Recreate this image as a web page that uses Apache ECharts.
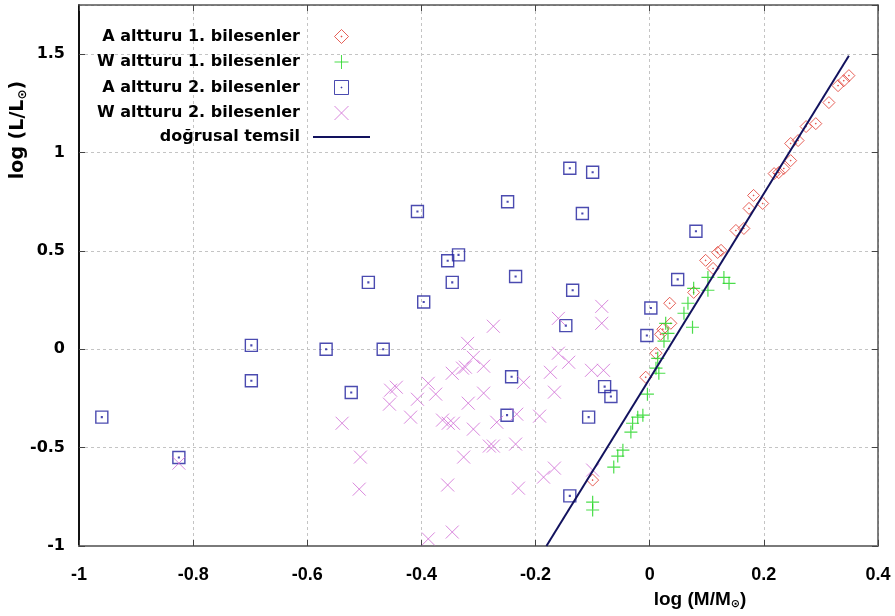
<!DOCTYPE html>
<html lang="tr">
<head>
<meta charset="UTF-8" />
<script src="https://cdn.jsdelivr.net/npm/echarts@6/dist/echarts.min.js"></script>
<title>log L - log M</title>
<style>html, body { margin: 0; padding: 0; background: #fff; }</style>
</head>
<body>
<div id="main" style="width: 895px; height: 616px"></div>
<script type="text/javascript">
// series names (legend order)
const seriesNames = ['A altturu 1. bilesenler', 'W altturu 1. bilesenler', 'A altturu 2. bilesenler', 'W altturu 2. bilesenler', 'doğrusal temsil'];

// axis ranges
const xRange = [-1, 0.4];
const yRange = [-1, 1.75];

// A altturu 1. bilesenler  [log M, log L]
const altA1 = [
	[0.349, 1.391], [0.340, 1.365], [0.330, 1.340], [0.314, 1.254], [0.291, 1.147],
	[0.274, 1.132], [0.260, 1.061], [0.247, 1.046], [0.247, 0.959], [0.235, 0.919],
	[0.226, 0.898], [0.218, 0.893], [0.198, 0.741], [0.182, 0.782], [0.174, 0.716],
	[0.165, 0.614], [0.151, 0.604], [0.125, 0.503], [0.119, 0.492], [0.098, 0.452],
	[0.111, 0.411], [0.077, 0.289], [0.035, 0.234], [0.037, 0.132], [0.023, 0.102],
	[0.019, 0.076], [0.011, -0.020], [-0.007, -0.142], [-0.100, -0.665]
];

// W altturu 1. bilesenler
const altW1 = [
	[0.130, 0.365], [0.139, 0.335], [0.102, 0.365], [0.102, 0.300], [0.077, 0.310],
	[0.067, 0.234], [0.060, 0.183], [0.075, 0.112], [0.028, 0.132], [0.032, 0.081],
	[0.025, 0.041], [0.014, -0.046], [0.011, -0.096], [0.016, -0.122], [-0.004, -0.228],
	[-0.012, -0.335], [-0.021, -0.345], [-0.030, -0.376], [-0.033, -0.421], [-0.047, -0.513],
	[-0.056, -0.543], [-0.063, -0.599], [-0.100, -0.777], [-0.100, -0.817]
];

// A altturu 2. bilesenler
const altA2 = [
	[-0.960, -0.345], [-0.825, -0.550], [-0.698, 0.020], [-0.698, -0.160], [-0.567, 0.000],
	[-0.523, -0.220], [-0.493, 0.340], [-0.467, 0.000], [-0.407, 0.700], [-0.396, 0.240],
	[-0.354, 0.450], [-0.346, 0.340], [-0.335, 0.480], [-0.249, 0.750], [-0.235, 0.370],
	[-0.250, -0.335], [-0.242, -0.140], [-0.140, 0.920], [-0.100, 0.900], [-0.118, 0.690],
	[-0.135, 0.300], [-0.147, 0.120], [-0.140, -0.745], [-0.107, -0.345], [-0.079, -0.190],
	[-0.068, -0.240], [-0.005, 0.070], [0.002, 0.210], [0.049, 0.355], [0.081, 0.600]
];

// W altturu 2. bilesenler
const altW2 = [
	[-0.825, -0.579], [-0.539, -0.376], [-0.507, -0.548], [-0.509, -0.711], [-0.454, -0.208],
	[-0.444, -0.193], [-0.456, -0.279], [-0.419, -0.345], [-0.407, -0.254], [-0.388, -0.173],
	[-0.375, -0.228], [-0.363, -0.360], [-0.353, -0.376], [-0.344, -0.376], [-0.346, -0.122],
	[-0.328, -0.096], [-0.323, -0.091], [-0.319, 0.030], [-0.309, -0.041], [-0.291, -0.086],
	[-0.274, 0.117], [-0.318, -0.274], [-0.291, -0.223], [-0.309, -0.406], [-0.268, -0.371],
	[-0.281, -0.492], [-0.274, -0.492], [-0.235, -0.482], [-0.326, -0.548], [-0.354, -0.690],
	[-0.346, -0.929], [-0.388, -0.964], [-0.230, -0.706], [-0.221, -0.168], [-0.233, -0.330],
	[-0.193, -0.340], [-0.174, -0.117], [-0.167, -0.218], [-0.160, -0.020], [-0.142, -0.066],
	[-0.160, 0.157], [-0.084, 0.218], [-0.084, 0.132], [-0.102, -0.107], [-0.081, -0.107],
	[-0.186, -0.650], [-0.167, -0.604], [-0.100, -0.614]
];

// doğrusal temsil (end points of the fitted line)
const fitLine = [[-0.181, -1.0], [0.349, 1.492]];

const font = "'DejaVu Sans', 'Liberation Sans', Arial, sans-serif";
const narrow = "'Liberation Sans Narrow', 'Liberation Sans', Arial, sans-serif";

const diamondPath = 'path://M5,0 L10,5 L5,10 L0,5 Z M4.7,4.7 L5.3,4.7 L5.3,5.3 L4.7,5.3 Z';
const squarePath = 'path://M0,0 L10,0 L10,10 L0,10 Z M4.7,4.7 L5.3,4.7 L5.3,5.3 L4.7,5.3 Z';
const plusPath = 'path://M5,0 L5,10 M0,5 L10,5';
const crossPath = 'path://M0,0 L10,10 M10,0 L0,10';
const linePath = 'path://M0,0 L57,0 L57,2 L0,2 Z';

const scatter = (name, data, symbol, size, color, width) => ({
	name,
	type: 'scatter',
	data,
	symbol,
	symbolSize: size,
	symbolKeepAspect: true,
	itemStyle: { color: 'none', borderColor: color, borderWidth: width },
	emphasis: { disabled: true },
});

const chart = echarts.init(document.getElementById('main'));

const axisCommon = {
	type: 'value',
	axisLine: { onZero: false, lineStyle: { color: '#555', width: 1.5 } },
	axisTick: { inside: true, length: 6, lineStyle: { color: '#444' } },
};

chart.setOption({
	animation: false,
	grid: { left: 79, right: 17, top: 5, bottom: 70 },
	legend: {
		orient: 'vertical',
		align: 'right',
		right: 525,
		top: 27,
		padding: 0,
		itemWidth: 57,
		itemHeight: 14,
		itemGap: 6.5,
		itemStyle: { borderWidth: 1 },
		textStyle: { fontFamily: font, fontWeight: 'bold', fontSize: 16, color: '#000', padding: [0, 8, 0, 0] },
		data: seriesNames.slice(0, 4).concat([{ name: seriesNames[4], icon: linePath }]),
	},
	xAxis: [
		Object.assign({}, axisCommon, {
			min: xRange[0], max: xRange[1], interval: 0.2, position: 'bottom',
			axisLine: { onZero: false, lineStyle: { color: '#7a7a7a', width: 2 } },
			axisLabel: { margin: 20, fontFamily: narrow, fontWeight: 'bold', fontSize: 18, color: '#000' },
			splitLine: { show: true, lineStyle: { color: '#c4c4c4', type: [3, 3] } },
		}),
		Object.assign({}, axisCommon, {
			min: xRange[0], max: xRange[1], interval: 0.2, position: 'top',
			axisLabel: { show: false }, splitLine: { show: false },
		}),
	],
	yAxis: [
		Object.assign({}, axisCommon, {
			min: yRange[0], max: yRange[1], interval: 0.5, position: 'left',
			axisLine: { onZero: false, lineStyle: { color: '#111', width: 2 } },
			axisLabel: { margin: 14, showMaxLabel: false, fontFamily: font, fontWeight: 'bold', fontSize: 16, color: '#000' },
			splitLine: { show: true, lineStyle: { color: '#c4c4c4', type: [3, 3] } },
		}),
		Object.assign({}, axisCommon, {
			min: yRange[0], max: yRange[1], interval: 0.5, position: 'right',
			axisLabel: { show: false }, splitLine: { show: false },
		}),
	],
	graphic: [
		{
			type: 'text', x: 700, y: 600,
			style: {
				text: 'log (M/M{s|⊙})',
				fontFamily: narrow, fontWeight: 'bold', fontSize: 19, fill: '#000',
				align: 'center', verticalAlign: 'middle',
				rich: { s: { fontFamily: font, fontWeight: 'bold', fontSize: 11, padding: [9, 0, 0, 0] } },
			},
		},
		{
			type: 'text', x: 18, y: 130, rotation: Math.PI / 2,
			style: {
				text: 'log (L/L{s|⊙})',
				fontFamily: font, fontWeight: 'bold', fontSize: 19, fill: '#000',
				align: 'center', verticalAlign: 'middle',
				rich: { s: { fontFamily: font, fontWeight: 'bold', fontSize: 12, padding: [9, 0, 0, 0] } },
			},
		},
	],
	series: [
		scatter(seriesNames[0], altA1, diamondPath, 12, '#e0382e', 1),
		scatter(seriesNames[1], altW1, plusPath, 13, '#1ed41e', 1.2),
		scatter(seriesNames[2], altA2, squarePath, 12, '#1e1e9c', 1.4),
		scatter(seriesNames[3], altW2, crossPath, 13, '#d06ad4', 1),
		{
			name: seriesNames[4],
			type: 'line',
			data: fitLine,
			symbol: 'none',
			z: 5,
			itemStyle: { color: '#12125e' },
			lineStyle: { color: '#12125e', width: 2 },
			emphasis: { disabled: true },
		},
	],
});
</script>
</body>
</html>
